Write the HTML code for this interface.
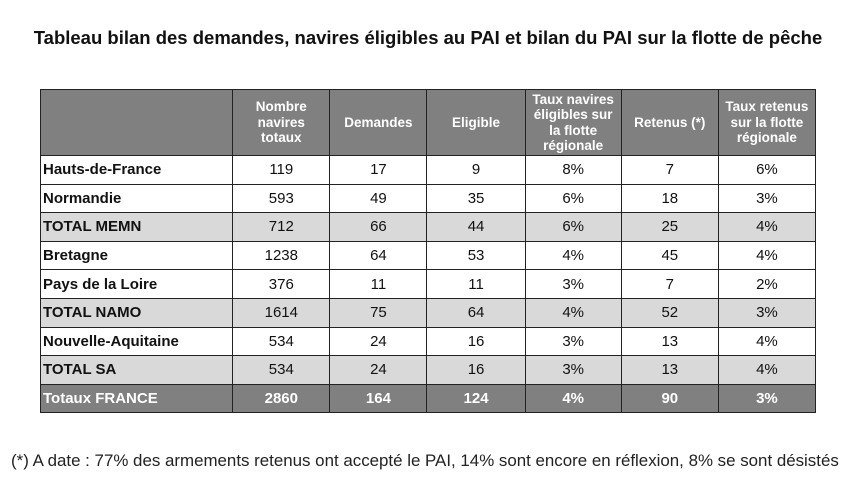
<!DOCTYPE html>
<html><head><meta charset="utf-8"><style>
body{margin:0;width:860px;height:477px;background:#fff;font-family:"Liberation Sans",Arial,sans-serif;position:relative;overflow:hidden}
h1{position:absolute;top:27px;left:0;width:856px;text-align:center;margin:0;font-size:18.5px;font-weight:bold;color:#111;white-space:nowrap}
table{position:absolute;left:40px;top:89px;border-collapse:collapse;table-layout:fixed;width:776px}
td,th{border:1.5px solid #222;padding:0;text-align:center;font-size:15px;color:#111;height:27.1px;box-sizing:border-box}
td{height:28.6px}
th{background:#808080;color:#fff;font-size:13.5px;font-weight:bold;line-height:15.5px;height:66px}
td:first-child{text-align:left;font-weight:bold;padding-left:2px}
tr.g td{background:#d9d9d9}
tr.t td{background:#808080;color:#fff;font-weight:bold}
.note{position:absolute;left:11px;top:451px;font-size:16.9px;color:#222;white-space:nowrap}
</style></head><body>
<h1>Tableau bilan des demandes, navires éligibles au PAI et bilan du PAI sur la flotte de pêche</h1>
<table>
<colgroup><col style="width:192px"><col style="width:97px"><col style="width:97px"><col style="width:98px"><col style="width:96px"><col style="width:97px"><col style="width:97px"></colgroup>
<tr><th></th><th>Nombre<br>navires<br>totaux</th><th>Demandes</th><th>Eligible</th><th>Taux navires<br>éligibles sur<br>la flotte<br>régionale</th><th>Retenus (*)</th><th>Taux retenus<br>sur la flotte<br>régionale</th></tr>
<tr><td>Hauts-de-France</td><td>119</td><td>17</td><td>9</td><td>8%</td><td>7</td><td>6%</td></tr>
<tr><td>Normandie</td><td>593</td><td>49</td><td>35</td><td>6%</td><td>18</td><td>3%</td></tr>
<tr class="g"><td>TOTAL MEMN</td><td>712</td><td>66</td><td>44</td><td>6%</td><td>25</td><td>4%</td></tr>
<tr><td>Bretagne</td><td>1238</td><td>64</td><td>53</td><td>4%</td><td>45</td><td>4%</td></tr>
<tr><td>Pays de la Loire</td><td>376</td><td>11</td><td>11</td><td>3%</td><td>7</td><td>2%</td></tr>
<tr class="g"><td>TOTAL NAMO</td><td>1614</td><td>75</td><td>64</td><td>4%</td><td>52</td><td>3%</td></tr>
<tr><td>Nouvelle-Aquitaine</td><td>534</td><td>24</td><td>16</td><td>3%</td><td>13</td><td>4%</td></tr>
<tr class="g"><td>TOTAL SA</td><td>534</td><td>24</td><td>16</td><td>3%</td><td>13</td><td>4%</td></tr>
<tr class="t"><td>Totaux FRANCE</td><td>2860</td><td>164</td><td>124</td><td>4%</td><td>90</td><td>3%</td></tr>
</table>
<div class="note">(*) A date : 77% des armements retenus ont accepté le PAI, 14% sont encore en réflexion, 8% se sont désistés</div>
</body></html>
